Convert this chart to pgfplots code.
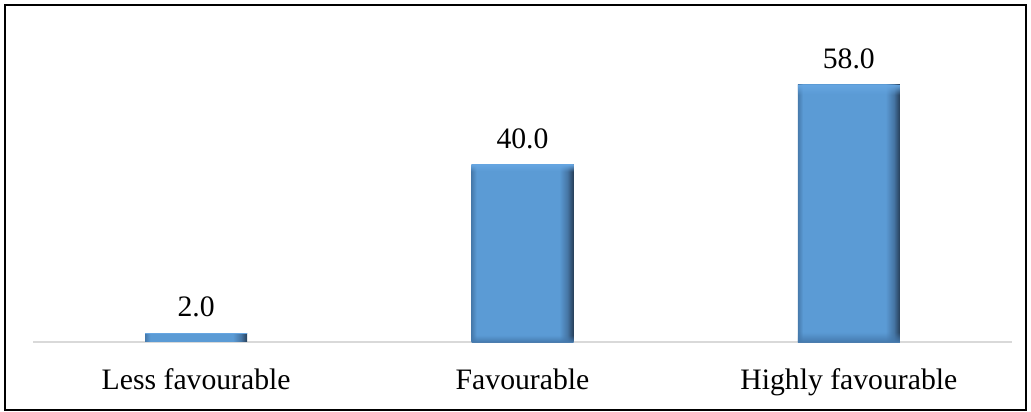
\documentclass[border=0pt]{standalone}
\usepackage{fontspec}
\setmainfont{Liberation Serif}
\usepackage{pgfplots}
\pgfplotsset{compat=1.18}
\usetikzlibrary{fadings}

\definecolor{barbase}{RGB}{91,155,213}
\definecolor{barleft}{RGB}{70,122,172}
\definecolor{barmidright}{RGB}{70,118,165}
\definecolor{barright}{RGB}{38,62,88}
\definecolor{bartop}{RGB}{102,166,226}
\definecolor{barbottom}{RGB}{68,120,172}
\definecolor{axisgray}{RGB}{217,217,217}

% bevelled bar face: darker left rim, flat middle, dark right rim
\pgfdeclarehorizontalshading{bevelbar}{100bp}{%
  color(0bp)=(barleft); color(25bp)=(barleft); color(27.5bp)=(barbase);
  color(68bp)=(barbase); color(72bp)=(barmidright); color(75bp)=(barright);
  color(100bp)=(barright)}
% light top rim, darker bottom rim
\pgfdeclareverticalshading{bevelvert}{100bp}{%
  color(0bp)=(barbottom); color(25bp)=(barbottom); color(50bp)=(barbase);
  color(75bp)=(bartop); color(100bp)=(bartop)}
% only the top and bottom rims of the overlay stay visible
\pgfdeclareverticalshading{rimmask}{100bp}{%
  color(0bp)=(pgftransparent!0); color(25bp)=(pgftransparent!0);
  color(27bp)=(pgftransparent!100); color(73bp)=(pgftransparent!100);
  color(75bp)=(pgftransparent!0); color(100bp)=(pgftransparent!0)}
\pgfdeclarefading{rims}{\pgfuseshading{rimmask}}

\newcommand{\chartfont}{\fontsize{29.7bp}{36bp}\selectfont}

\begin{document}
\begin{tikzpicture}
\begin{axis}[
  scale only axis,
  width=979bp, height=322bp,
  xmin=-0.5, xmax=2.5,
  ymin=0, ymax=72.67,
  axis x line*=bottom,
  axis y line=none,
  x axis line style={-, draw=axisgray, line width=1.5bp},
  xtick={0,1,2},
  xticklabels={Less favourable, Favourable, Highly favourable},
  major tick length=0pt,
  xtick style={draw=none},
  ytick=\empty,
  xticklabel style={anchor=base, inner sep=0pt, yshift=-47bp, font=\chartfont},
  ybar,
  bar width=102bp,
  bar shift=0pt,
  nodes near coords={\pgfmathprintnumber[fixed,fixed zerofill,precision=1,assume math mode=true]{\pgfplotspointmeta}},
  every node near coord/.append style={anchor=south, inner sep=0pt, yshift=16bp, font=\chartfont, text=black},
  clip=false,
  bevel/.style={draw=none, shading=bevelbar,
    postaction={shading=bevelvert, path fading=rims, fit fading=true}},
]
% one plot per bar so that each bar gets its own bevel shading
\addplot[bevel] coordinates {(0,2.0)};
\addplot[bevel] coordinates {(1,40.0)};
\addplot[bevel] coordinates {(2,58.0)};
\end{axis}
\draw[line width=1.5bp] (-28bp,-68bp) rectangle (993bp,337bp);
\path (-33bp,-70bp) rectangle (998bp,342bp);
\end{tikzpicture}
\end{document}
